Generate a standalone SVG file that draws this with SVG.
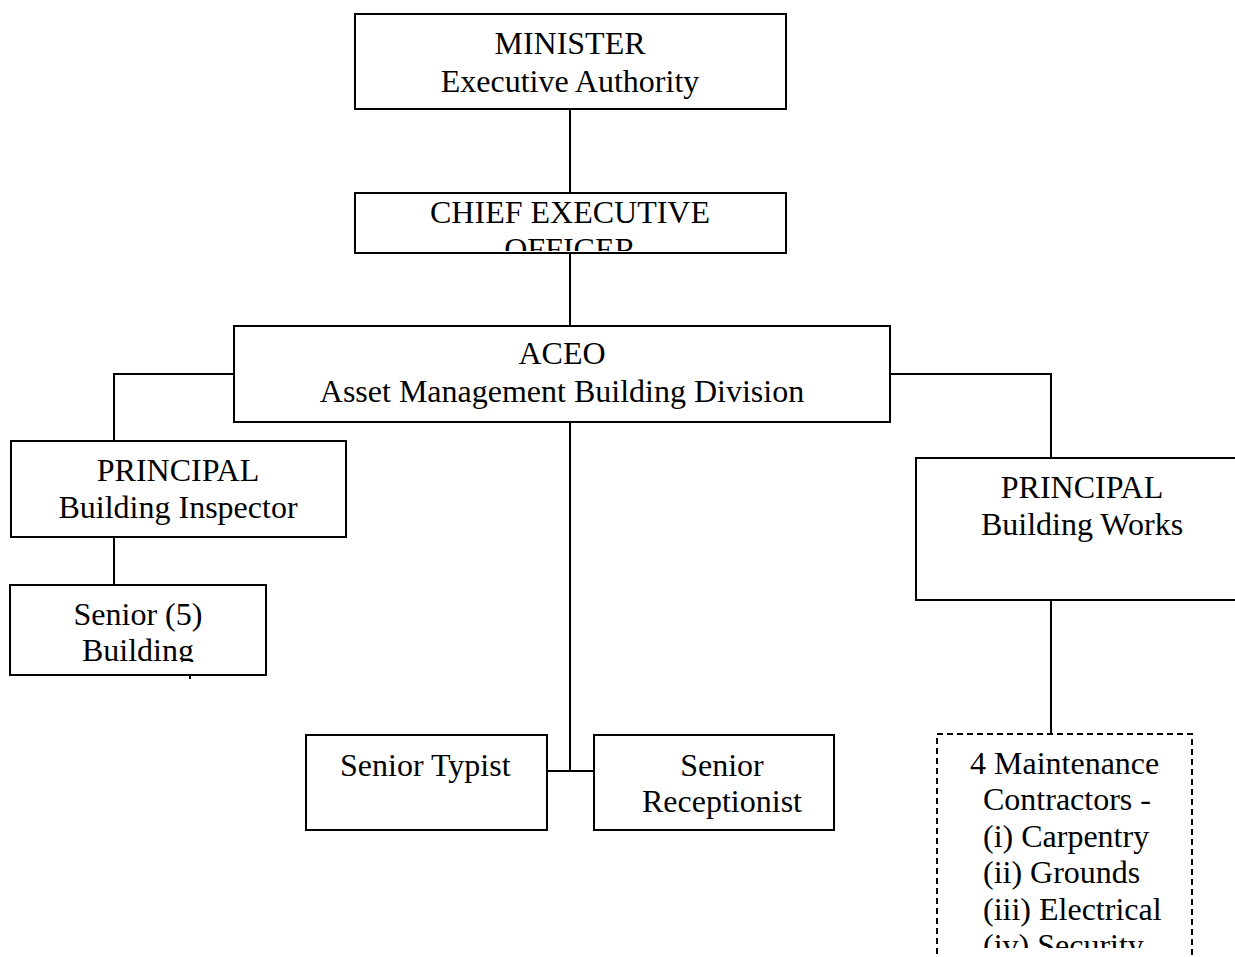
<svg xmlns="http://www.w3.org/2000/svg" width="1235" height="957" viewBox="0 0 1235 957">
<style>
.box{fill:#fff;stroke:#000;stroke-width:2}
.dash{fill:#fff;stroke:#000;stroke-width:2;stroke-dasharray:6,4}
.t{font-family:"Liberation Serif","Times New Roman",serif;font-size:32px;fill:#000}
.c{text-anchor:middle}
.ln{stroke:#000;stroke-width:2;fill:none}
</style>
<defs>
<clipPath id="clipCeo"><rect x="355" y="194" width="430" height="57"/></clipPath>
<clipPath id="clipSen"><rect x="11" y="586" width="254" height="76"/></clipPath>
<clipPath id="clipMaint"><rect x="938" y="735" width="253" height="213"/></clipPath>
</defs>
<rect width="1235" height="957" fill="#fff"/>
<g id="connectors">
<path class="ln" d="M570,109 V193"/>
<path class="ln" d="M570,253 V326"/>
<path class="ln" d="M234,374 H114 V441"/>
<path class="ln" d="M890,374 H1051 V458"/>
<path class="ln" d="M114,537 V585"/>
<path class="ln" d="M190,675 V679"/>
<path class="ln" d="M570,422 V771"/>
<path class="ln" d="M547,771 H594"/>
<path class="ln" d="M1051,600 V734"/>
</g>
<g id="minister">
<rect class="box" x="355" y="14" width="431" height="95"/>
<text class="t c" x="570" y="54">MINISTER</text>
<text class="t c" x="570" y="92">Executive Authority</text>
</g>
<g id="ceo">
<rect class="box" x="355" y="193" width="431" height="60"/>
<g clip-path="url(#clipCeo)">
<text class="t c" x="570" y="223">CHIEF EXECUTIVE</text>
<text class="t c" x="570" y="260">OFFICER</text>
</g>
</g>
<g id="aceo">
<rect class="box" x="234" y="326" width="656" height="96"/>
<text class="t c" x="562" y="364">ACEO</text>
<text class="t c" x="562" y="402">Asset Management Building Division</text>
</g>
<g id="principal-inspector">
<rect class="box" x="11" y="441" width="335" height="96"/>
<text class="t c" x="178" y="481">PRINCIPAL</text>
<text class="t c" x="178" y="518">Building Inspector</text>
</g>
<g id="senior-building">
<rect class="box" x="10" y="585" width="256" height="90"/>
<g clip-path="url(#clipSen)">
<text class="t c" x="138" y="625">Senior (5)</text>
<text class="t c" x="138" y="661">Building</text>
</g>
</g>
<g id="principal-works">
<rect class="box" x="916" y="458" width="330" height="142"/>
<text class="t c" x="1082" y="498">PRINCIPAL</text>
<text class="t c" x="1082" y="535">Building Works</text>
</g>
<g id="senior-typist">
<rect class="box" x="306" y="735" width="241" height="95"/>
<text class="t" x="340" y="776">Senior Typist</text>
</g>
<g id="senior-receptionist">
<rect class="box" x="594" y="735" width="240" height="95"/>
<text class="t c" x="722" y="776">Senior</text>
<text class="t c" x="722" y="812">Receptionist</text>
</g>
<g id="maintenance">
<rect class="dash" x="937" y="734" width="255" height="240"/>
<g clip-path="url(#clipMaint)">
<text class="t" x="970" y="774">4 Maintenance</text>
<text class="t" x="983" y="810">Contractors -</text>
<text class="t" x="983" y="847">(i) Carpentry</text>
<text class="t" x="983" y="883">(ii) Grounds</text>
<text class="t" x="983" y="920">(iii) Electrical</text>
<text class="t" x="983" y="956">(iv) Security</text>
</g>
</g>
</svg>
